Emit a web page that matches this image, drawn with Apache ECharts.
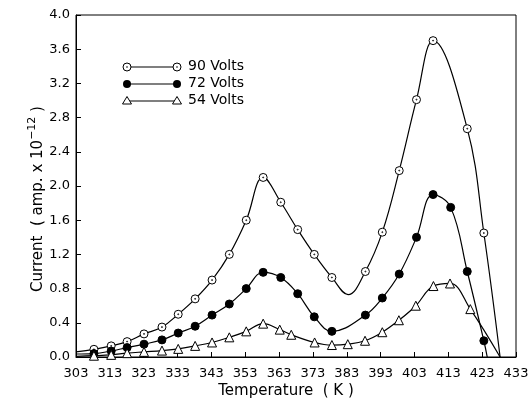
<!DOCTYPE html>
<html>
<head>
<meta charset="utf-8">
<script src="https://cdn.jsdelivr.net/npm/echarts@6/dist/echarts.min.js"></script>
<style>
  html, body { margin: 0; padding: 0; background: #fff; }
  #main { width: 531px; height: 405px; }
</style>
</head>
<body>
<div id="main"></div>
<script type="text/javascript">
// x 轴从 303 K 起算, 每 10 K 一个刻度
var tempStart = 303;
var xTickLabels = ['303', '313', '323', '333', '343', '353', '363', '373', '383', '393', '403', '413', '423', '433'];

// 90 Volts : 带标记的点 + 只在曲线上的点
var t90 = [308.3, 313.4, 318.1, 323.1, 328.4, 333.2, 338.2, 343.2, 348.3, 353.3, 358.3, 363.5, 368.5, 373.4, 378.6, 388.5, 393.5, 398.5, 403.6, 408.5, 418.6, 423.5];
var v90 = [0.09, 0.13, 0.18, 0.27, 0.35, 0.50, 0.68, 0.90, 1.20, 1.60, 2.10, 1.81, 1.49, 1.20, 0.93, 1.00, 1.46, 2.18, 3.01, 3.70, 2.67, 1.45];
var t90Curve = [303, 383.4, 428.3];
var v90Curve = [0.06, 0.73, 0];

// 72 Volts
var t72 = [308.3, 313.4, 318.1, 323.1, 328.4, 333.2, 338.2, 343.2, 348.3, 353.3, 358.3, 363.5, 368.5, 373.4, 378.6, 388.5, 393.5, 398.5, 403.6, 408.5, 413.7, 418.6, 423.5];
var v72 = [0.04, 0.07, 0.11, 0.15, 0.20, 0.28, 0.36, 0.49, 0.62, 0.80, 0.99, 0.93, 0.74, 0.47, 0.30, 0.49, 0.69, 0.97, 1.40, 1.90, 1.75, 1.00, 0.19];
var t72Curve = [303, 424.5];
var v72Curve = [0.035, 0];

// 54 Volts
var t54 = [308.3, 313.4, 318.1, 323.1, 328.4, 333.2, 338.2, 343.2, 348.3, 353.3, 358.3, 363.2, 366.6, 373.5, 378.6, 383.3, 388.4, 393.5, 398.4, 403.4, 408.6, 413.5, 419.5];
var v54 = [0.015, 0.025, 0.045, 0.06, 0.075, 0.095, 0.13, 0.17, 0.23, 0.30, 0.39, 0.32, 0.26, 0.17, 0.14, 0.15, 0.19, 0.29, 0.43, 0.60, 0.83, 0.86, 0.56];
var t54Curve = [303, 428.3];
var v54Curve = [0.008, 0];

var seriesNames = ['90 Volts', '72 Volts', '54 Volts'];

function buildData(markT, markV, curveT, curveV) {
  var pts = [];
  markT.forEach(function (t, i) { pts.push({ value: [t - tempStart, markV[i]] }); });
  curveT.forEach(function (t, i) { pts.push({ value: [t - tempStart, curveV[i]], symbol: 'none' }); });
  pts.sort(function (a, b) { return a.value[0] - b.value[0]; });
  return pts;
}

// 空心圆中间带一个小点
var dotCircle = 'path://M10 0A10 10 0 1 1 -10 0A10 10 0 1 1 10 0ZM1.2 0A1.2 1.2 0 1 1 -1.2 0A1.2 1.2 0 1 1 1.2 0Z';

var font = 'DejaVu Sans';
var myChart = echarts.init(document.getElementById('main'));

var option = {
  backgroundColor: '#fff',
  animation: false,
  grid: { left: 76, right: 15, top: 15, bottom: 48, show: true, borderColor: '#000', borderWidth: 1,
    outerBoundsMode: 'none' },
  xAxis: {
    type: 'value', min: 0, max: 130, interval: 10,
    name: 'Temperature  ( K )', nameLocation: 'middle', nameGap: 27, nameMoveOverlap: false,
    nameTextStyle: { color: '#000', fontFamily: font, fontSize: 15, padding: [0, 20, 0, 0] },
    axisLine: { lineStyle: { color: '#000', width: 1 } },
    axisTick: { inside: true, length: 5, lineStyle: { color: '#000' } },
    axisLabel: { color: '#000', fontFamily: font, fontSize: 13, margin: 10,
      formatter: function (v) { return xTickLabels[Math.round(v / 10)]; } },
    splitLine: { show: false }
  },
  yAxis: {
    type: 'value', min: 0, max: 4, interval: 0.4,
    name: 'Current  ( amp. x 10{sup|−12} )', nameLocation: 'middle', nameGap: 27, nameRotate: 90,
    nameMoveOverlap: false,
    nameTextStyle: { color: '#000', fontFamily: font, fontSize: 15, lineHeight: 22,
      padding: [0, 26, 0, 0],
      rich: { sup: { fontFamily: font, fontSize: 11, lineHeight: 11, verticalAlign: 'top', color: '#000' } } },
    axisLine: { lineStyle: { color: '#000', width: 1 } },
    axisTick: { inside: true, length: 5, lineStyle: { color: '#000' } },
    axisLabel: { color: '#000', fontFamily: font, fontSize: 13, margin: 6,
      formatter: function (v) { return v.toFixed(1); } },
    splitLine: { show: false }
  },
  series: [
    { name: seriesNames[0], type: 'line', smooth: 0.4, symbol: dotCircle, symbolSize: 8,
      itemStyle: { color: '#fff', borderColor: '#000', borderWidth: 1 },
      lineStyle: { color: '#000', width: 1.2 },
      data: buildData(t90, v90, t90Curve, v90Curve) },
    { name: seriesNames[1], type: 'line', smooth: 0.4, symbol: 'circle', symbolSize: 8,
      itemStyle: { color: '#000', borderColor: '#000', borderWidth: 1 },
      lineStyle: { color: '#000', width: 1.2 },
      data: buildData(t72, v72, t72Curve, v72Curve) },
    { name: seriesNames[2], type: 'line', smooth: 0.4, symbol: 'triangle', symbolSize: 9,
      itemStyle: { color: '#fff', borderColor: '#000', borderWidth: 1 },
      lineStyle: { color: '#000', width: 1.2 },
      data: buildData(t54, v54, t54Curve, v54Curve) }
  ],
  // 图例: 两端带标记的短线
  graphic: [
    { type: 'line', shape: { x1: 127, y1: 67, x2: 177, y2: 67 }, style: { stroke: '#000', lineWidth: 1.2 } },
    { type: 'circle', shape: { cx: 127, cy: 67, r: 4 }, style: { fill: '#fff', stroke: '#000', lineWidth: 1 } },
    { type: 'circle', shape: { cx: 127, cy: 67, r: 0.8 }, style: { fill: '#000' } },
    { type: 'circle', shape: { cx: 177, cy: 67, r: 4 }, style: { fill: '#fff', stroke: '#000', lineWidth: 1 } },
    { type: 'circle', shape: { cx: 177, cy: 67, r: 0.8 }, style: { fill: '#000' } },
    { type: 'text', left: 188, top: 59, style: { text: seriesNames[0], fill: '#000', font: '14px "DejaVu Sans"' } },

    { type: 'line', shape: { x1: 127, y1: 84, x2: 177, y2: 84 }, style: { stroke: '#000', lineWidth: 1.2 } },
    { type: 'circle', shape: { cx: 127, cy: 84, r: 4 }, style: { fill: '#000' } },
    { type: 'circle', shape: { cx: 177, cy: 84, r: 4 }, style: { fill: '#000' } },
    { type: 'text', left: 188, top: 76, style: { text: seriesNames[1], fill: '#000', font: '14px "DejaVu Sans"' } },

    { type: 'line', shape: { x1: 127, y1: 101, x2: 177, y2: 101 }, style: { stroke: '#000', lineWidth: 1.2 } },
    { type: 'polygon', shape: { points: [[127, 96.5], [131.5, 104], [122.5, 104]] }, style: { fill: '#fff', stroke: '#000', lineWidth: 1 } },
    { type: 'polygon', shape: { points: [[177, 96.5], [181.5, 104], [172.5, 104]] }, style: { fill: '#fff', stroke: '#000', lineWidth: 1 } },
    { type: 'text', left: 188, top: 93, style: { text: seriesNames[2], fill: '#000', font: '14px "DejaVu Sans"' } }
  ]
};

myChart.setOption(option);
</script>
</body>
</html>
